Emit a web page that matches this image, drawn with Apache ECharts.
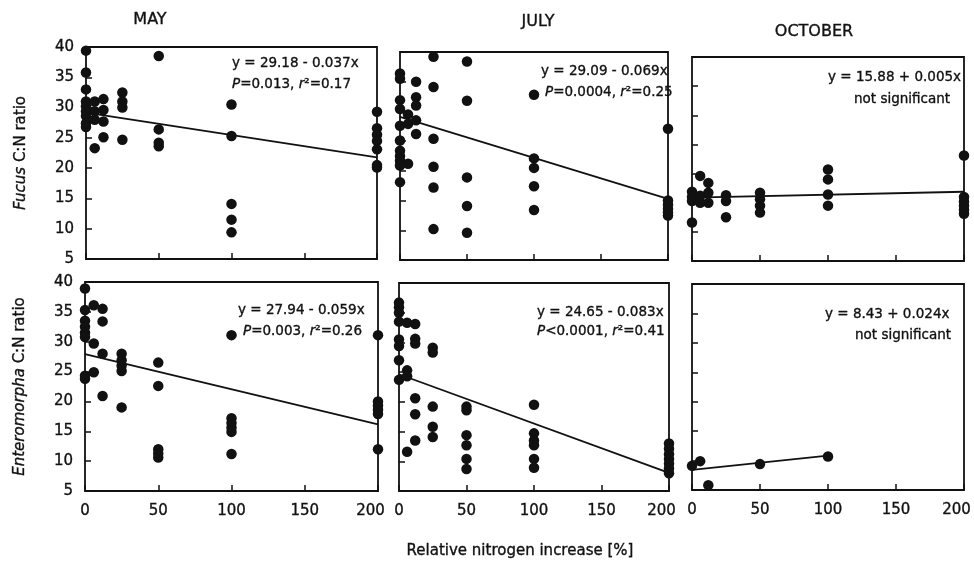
<!DOCTYPE html>
<html>
<head>
<meta charset="utf-8">
<script src="https://cdn.jsdelivr.net/npm/echarts@6/dist/echarts.min.js"></script>
<style>
  html, body { margin: 0; padding: 0; background: #ffffff; }
  #chart { width: 974px; height: 570px; }
</style>
</head>
<body>
<div id="chart"></div>
<script>
// ---- data: C:N ratio against relative nitrogen increase (%) ----
const months = ['MAY', 'JULY', 'OCTOBER'];
const speciesNames = ['Fucus', 'Enteromorpha'];
const xAxisTitle = 'Relative nitrogen increase [%]';
const xTickValues = [0, 50, 100, 150, 200];
const yTickValues = [5, 10, 15, 20, 25, 30, 35, 40];

// [nitrogen increase %, C:N ratio]
const fucusMay = [
  [0, 39.4], [0, 35.8], [0, 33], [0, 31], [0, 30.2], [0, 29.4], [0, 28.6], [0, 27.4], [0, 26.8],
  [6, 31], [6, 29.4], [6, 28], [6, 23.3],
  [12, 31.4], [12, 29.6], [12, 27.7], [12, 25.1],
  [25, 32.5], [25, 31], [25, 30], [25, 24.7],
  [50, 38.5], [50, 26.4], [50, 24.2], [50, 23.6],
  [100, 30.5], [100, 25.3], [100, 14.1], [100, 11.5], [100, 9.4],
  [200, 29.3], [200, 26.6], [200, 25.5], [200, 24.5], [200, 23.1], [200, 20.5], [200, 20.1]
];
const fucusJuly = [
  [0, 36.4], [0, 35.5], [0, 31.9], [0, 30.4], [0, 27.6], [0, 25.1], [0, 23.4], [0, 22.5], [0, 21.7], [0, 20.9], [0, 18.1],
  [6, 29.5], [6, 27.9], [6, 21.2],
  [12, 35], [12, 32.4], [12, 31], [12, 28.5], [12, 26.2],
  [25, 39.2], [25, 34.1], [25, 25.4], [25, 20.7], [25, 17.2], [25, 10.2],
  [50, 38.4], [50, 31.8], [50, 18.9], [50, 14.1], [50, 9.6],
  [100, 32.8], [100, 22.1], [100, 20.5], [100, 17.4], [100, 13.4],
  [200, 27.1], [200, 15], [200, 14.3], [200, 13.6], [200, 13], [200, 12.5]
];
const fucusOctober = [
  [0, 16.9], [0, 16], [0, 15.3], [0, 11.6],
  [6, 19.6], [6, 16.2], [6, 15],
  [12, 18.4], [12, 16.7], [12, 15],
  [25, 16.3], [25, 15.3], [25, 12.5],
  [50, 16.7], [50, 15.6], [50, 14.5], [50, 13.3],
  [100, 20.7], [100, 19], [100, 16.4], [100, 14.5],
  [200, 23.1], [200, 16], [200, 15.2], [200, 14.5], [200, 13.8], [200, 13.1]
];
const enteroMay = [
  [0, 38.9], [0, 35.3], [0, 33.5], [0, 32.5], [0, 31.5], [0, 30.8], [0, 24.3], [0, 23.8],
  [6, 36.1], [6, 29.7], [6, 24.9],
  [12, 35.5], [12, 33.4], [12, 28], [12, 20.9],
  [25, 28], [25, 26.9], [25, 26], [25, 25.1], [25, 19],
  [50, 26.5], [50, 22.6], [50, 12], [50, 11.3], [50, 10.6],
  [100, 31.1], [100, 17.2], [100, 16.4], [100, 15.6], [100, 14.9], [100, 11.2],
  [200, 31.1], [200, 20], [200, 19.3], [200, 18.6], [200, 17.9], [200, 12]
];
const enteroJuly = [
  [0, 36.7], [0, 35.9], [0, 35], [0, 33.5], [0, 30.5], [0, 29.4], [0, 27], [0, 23.7],
  [6, 33.3], [6, 25.3], [6, 24.3], [6, 11.6],
  [12, 33.1], [12, 30.6], [12, 29.8], [12, 20.6], [12, 17.9], [12, 13.5],
  [25, 29.1], [25, 28.3], [25, 19.2], [25, 15.8], [25, 14.1],
  [50, 19.2], [50, 18.6], [50, 14.4], [50, 12.7], [50, 10.4], [50, 8.7],
  [100, 19.5], [100, 14.7], [100, 13.5], [100, 12.7], [100, 10.4], [100, 8.9],
  [200, 13], [200, 12.1], [200, 11.2], [200, 10.4], [200, 9.6], [200, 8.8], [200, 8]
];
const enteroOctober = [
  [0, 9.1], [6, 9.9], [12, 5.8], [50, 9.4], [100, 10.7]
];

// regression: [intercept, slope, last x covered by the fit]
const fucusMayFit = [29.18, -0.037, 200];
const fucusJulyFit = [29.09, -0.069, 200];
const fucusOctoberFit = [15.88, 0.005, 200];
const enteroMayFit = [27.94, -0.059, 200];
const enteroJulyFit = [24.65, -0.083, 200];
const enteroOctoberFit = [8.43, 0.024, 100];

// significance: P relation and value, r squared (null = not significant)
const pValues = ['=0.013', '=0.0004', null, '=0.003', '<0.0001', null];
const rSquared = ['0.17', '0.25', null, '0.26', '0.41', null];

const panelData = [fucusMay, fucusJuly, fucusOctober, enteroMay, enteroJuly, enteroOctober];
const panelFits = [fucusMayFit, fucusJulyFit, fucusOctoberFit, enteroMayFit, enteroJulyFit, enteroOctoberFit];

// ---- layout ----
const boxes = [
  { left: 86, top: 47, width: 291, height: 212 },
  { left: 400, top: 52, width: 268, height: 208 },
  { left: 692, top: 57, width: 272, height: 204 },
  { left: 85, top: 282, width: 293, height: 209 },
  { left: 399, top: 283, width: 270, height: 208 },
  { left: 692, top: 284, width: 273, height: 206 }
];
// anchor (left, middle) of the two equation lines in each panel
const notePos = [
  [[232, 63], [232, 84]],
  [[541, 71], [545, 92]],
  [[828, 77], [854, 99]],
  [[238, 310], [243, 331]],
  [[537, 312], [537, 331]],
  [[825, 314], [855, 335]]
];
const monthPos = [[150, 20], [538, 22], [814, 32]];

const INK = '#111111';
const FONT = '"DejaVu Sans", "Liberation Sans", Arial, sans-serif';
const INK_EDGE = 0.35; // thin outline so the lettering carries the weight of printed type

function equationText(fit) {
  const a = fit[0].toFixed(2);
  const b = fit[1];
  const sign = b < 0 ? '-' : '+';
  return 'y = ' + a + ' ' + sign + ' ' + Math.abs(b).toFixed(3) + 'x';
}

const grid = [], xAxis = [], yAxis = [], series = [], graphic = [];

boxes.forEach(function (b, i) {
  const row = Math.floor(i / 3), col = i % 3;
  grid.push({
    left: b.left, top: b.top, width: b.width, height: b.height,
    show: true, borderColor: INK, borderWidth: 1.8, backgroundColor: 'transparent'
  });
  xAxis.push({
    type: 'value', gridIndex: i, min: 0, max: 200, interval: 50,
    axisLine: { show: false },
    axisTick: { show: true, inside: true, length: 6, lineStyle: { color: INK, width: 1.5 } },
    splitLine: { show: false },
    axisLabel: {
      show: row === 1, margin: 13, color: INK, fontSize: 15, fontFamily: FONT,
      textBorderColor: INK, textBorderWidth: INK_EDGE,
      formatter: function (v) {
        if (xTickValues.indexOf(v) < 0) return '';
        // the last label sits a little to the left so it clears the next panel's "0"
        return v === 200 ? '{end|' + v + '}' : String(v);
      },
      rich: {
        end: {
          fontSize: 15, fontFamily: FONT, color: INK, padding: [0, 15, 0, 0],
          textBorderColor: INK, textBorderWidth: INK_EDGE
        }
      }
    }
  });
  yAxis.push({
    type: 'value', gridIndex: i, min: 5, max: 40, interval: 5,
    axisLine: { show: false },
    axisTick: { show: true, inside: true, length: 6, lineStyle: { color: INK, width: 1.5 } },
    splitLine: { show: false },
    axisLabel: {
      show: col === 0, margin: 12, color: INK, fontSize: 15, fontFamily: FONT,
      textBorderColor: INK, textBorderWidth: INK_EDGE,
      formatter: function (v) { return yTickValues.indexOf(v) >= 0 ? String(v) : ''; }
    },
    name: col === 0 ? '{i|' + speciesNames[row] + '} C:N ratio' : '',
    nameLocation: 'middle', nameRotate: 90, nameGap: 57,
    nameTextStyle: {
      color: INK, fontSize: 15, fontFamily: FONT,
      textBorderColor: INK, textBorderWidth: INK_EDGE,
      rich: {
        i: {
          fontStyle: 'italic', fontSize: 15, fontFamily: FONT, color: INK,
          textBorderColor: INK, textBorderWidth: INK_EDGE
        }
      }
    }
  });

  // measured points
  series.push({
    type: 'scatter', xAxisIndex: i, yAxisIndex: i,
    data: panelData[i], symbol: 'circle', symbolSize: 10.5,
    itemStyle: { color: INK, opacity: 1 }, z: 3, silent: true
  });

  // fitted regression line
  const fit = panelFits[i];
  series.push({
    type: 'line', xAxisIndex: i, yAxisIndex: i,
    data: [[0, fit[0]], [fit[2], fit[0] + fit[1] * fit[2]]],
    symbol: 'none', lineStyle: { color: INK, width: 1.8 }, z: 2, silent: true
  });

  // equation and statistics
  const p = notePos[i];
  graphic.push({
    type: 'text', x: p[0][0], y: p[0][1], silent: true,
    style: {
      text: equationText(fit), fill: INK, font: '13.5px ' + FONT,
      stroke: INK, lineWidth: INK_EDGE,
      textAlign: 'left', textVerticalAlign: 'middle'
    }
  });
  const stat = pValues[i] === null
    ? 'not significant'
    : '{i|P}' + pValues[i] + ', {i|r}\u00b2=' + rSquared[i];
  graphic.push({
    type: 'text', x: p[1][0], y: p[1][1], silent: true,
    style: {
      text: stat, fill: INK, font: '13.5px ' + FONT,
      stroke: INK, lineWidth: INK_EDGE,
      textAlign: 'left', textVerticalAlign: 'middle',
      rich: {
        i: {
          fontStyle: 'italic', fontSize: 13.5, fontFamily: FONT, fill: INK,
          stroke: INK, lineWidth: INK_EDGE
        }
      }
    }
  });
});

months.forEach(function (m, k) {
  graphic.push({
    type: 'text', x: monthPos[k][0], y: monthPos[k][1], silent: true,
    style: {
      text: m, fill: INK, font: '16px ' + FONT, stroke: INK, lineWidth: INK_EDGE,
      textAlign: 'center', textVerticalAlign: 'middle'
    }
  });
});

graphic.push({
  type: 'text', x: 520, y: 551, silent: true,
  style: {
    text: xAxisTitle, fill: INK, font: '15px ' + FONT, stroke: INK, lineWidth: INK_EDGE,
    textAlign: 'center', textVerticalAlign: 'middle'
  }
});

const chart = echarts.init(document.getElementById('chart'), null, { renderer: 'canvas' });
chart.setOption({
  backgroundColor: '#ffffff',
  animation: false,
  grid: grid,
  xAxis: xAxis,
  yAxis: yAxis,
  series: series,
  graphic: graphic
});
</script>
</body>
</html>
